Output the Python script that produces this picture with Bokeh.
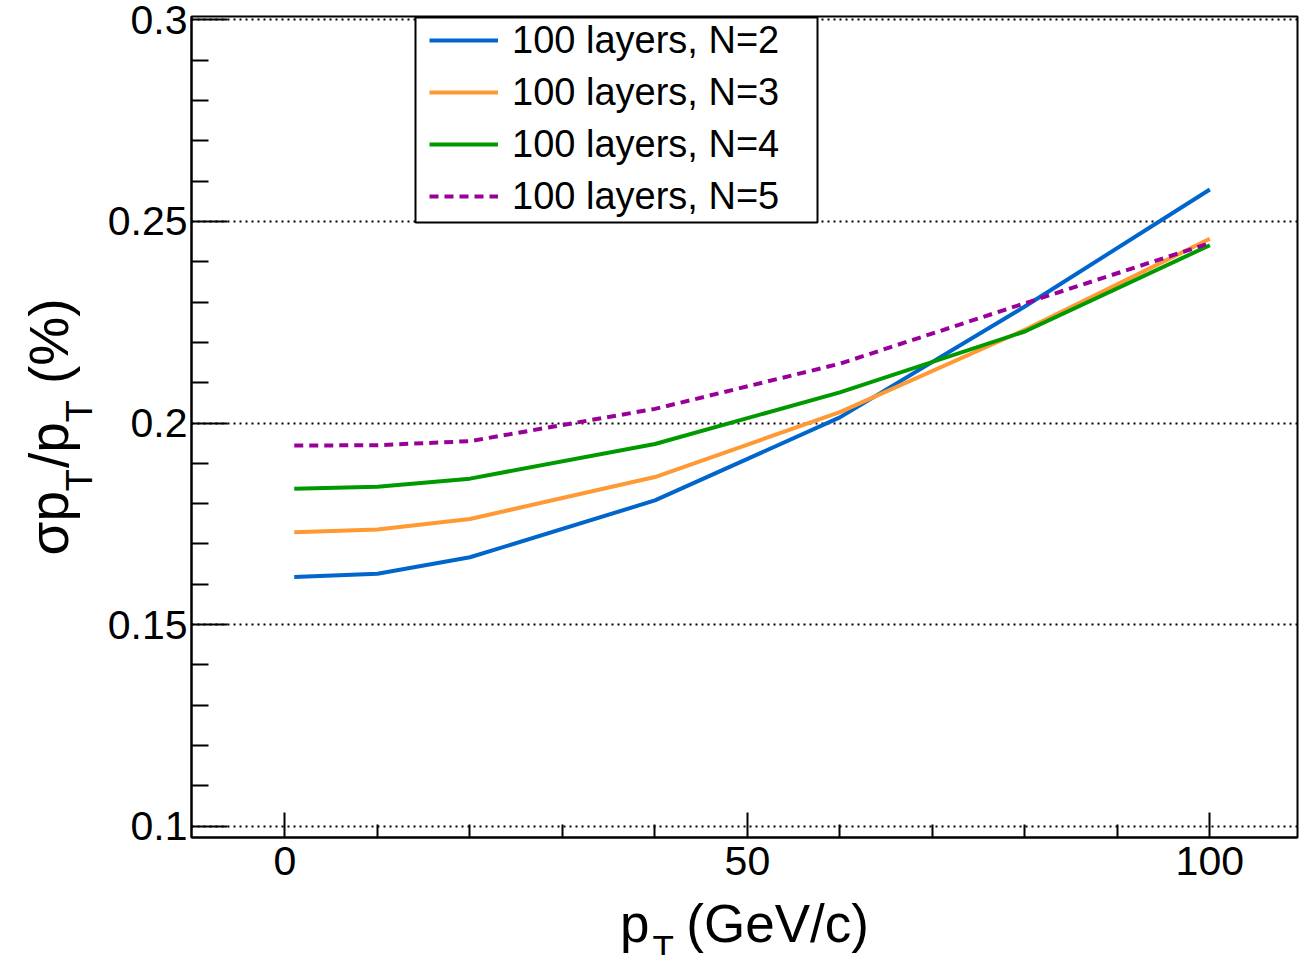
import numpy as np
from bokeh.plotting import figure
from bokeh.models import (Range1d, FixedTicker, CustomJSTickFormatter, Legend,
                          LegendItem, Label, BoxAnnotation, LinearAxis)
from bokeh.embed import file_html
from bokeh.resources import INLINE

# ---- data ----
pt = [1, 10, 20, 40, 60, 80, 100]
res_n2 = [0.1618, 0.1626, 0.1667, 0.1808, 0.2014, 0.2289, 0.2579]
res_n3 = [0.1729, 0.1736, 0.1762, 0.1866, 0.2027, 0.2231, 0.2457]
res_n4 = [0.1837, 0.1842, 0.1862, 0.1948, 0.2076, 0.2227, 0.2441]
res_n5 = [0.1944, 0.1945, 0.1955, 0.2035, 0.2147, 0.2297, 0.2446]
labels = ["100 layers, N=2", "100 layers, N=3", "100 layers, N=4", "100 layers, N=5"]
colors = ["#0066cc", "#ff9933", "#009900", "#990099"]

x_ticks = [0, 50, 100]
x_minor = [10, 20, 30, 40, 60, 70, 80, 90]
y_ticks = [0.1, 0.15, 0.2, 0.25, 0.3]
y_minor = [0.11, 0.12, 0.13, 0.14, 0.16, 0.17, 0.18, 0.19,
           0.21, 0.22, 0.23, 0.24, 0.26, 0.27, 0.28, 0.29]

x_title = "p\u0020\u2005\u2006(GeV/c)"          # subscript T drawn separately
y_title = "\u03c3p\u2005\u2006/p\u2005\u2006 (%)"  # subscripts T drawn separately
y_sub_pos = [0.1858, 0.2029]                    # where the two y-title subscripts sit

FONT = "Liberation Sans"

p = figure(width=1300, height=955,
           x_range=Range1d(-10.11, 109.48), y_range=Range1d(0.0972, 0.30082),
           output_backend="svg", toolbar_location=None,
           min_border_left=191, min_border_right=3,
           min_border_top=16, min_border_bottom=118)
p.background_fill_color = "white"
p.border_fill_color = "white"
p.outline_line_color = "black"
p.outline_line_width = 2

def blank_axis(**kw):
    base = dict(ticker=FixedTicker(ticks=[]), major_label_standoff=0,
                axis_line_color=None, major_tick_line_color=None,
                minor_tick_line_color=None, major_tick_in=0, major_tick_out=0,
                minor_tick_in=0, minor_tick_out=0)
    base.update(kw)
    return LinearAxis(**base)

# ---- x axis ----
xa = p.xaxis[0]
xa.ticker = FixedTicker(ticks=x_ticks, minor_ticks=x_minor)
xa.major_tick_in = 25
xa.major_tick_out = 0
xa.minor_tick_in = 13
xa.minor_tick_out = 0
xa.major_tick_line_width = 2
xa.minor_tick_line_width = 2
xa.axis_line_width = 2
xa.major_label_text_font = FONT
xa.major_label_text_font_size = "41px"
xa.major_label_text_color = "black"
xa.major_label_standoff = 9
xa.axis_label = x_title
xa.axis_label_text_font = FONT
xa.axis_label_text_font_style = "normal"
xa.axis_label_text_font_size = "53px"
xa.axis_label_text_color = "black"
xa.axis_label_standoff = 16
# spacer that gives back room below
p.add_layout(blank_axis(major_tick_out=-20), "below")

# ---- y axis (ticks + tick labels) ----
ya = p.yaxis[0]
ya.ticker = FixedTicker(ticks=y_ticks, minor_ticks=y_minor)
ya.formatter = CustomJSTickFormatter(code="return tick.toString()")
ya.major_tick_in = 36
ya.major_tick_out = 0
ya.minor_tick_in = 17
ya.minor_tick_out = 0
ya.major_tick_line_width = 2
ya.minor_tick_line_width = 2
ya.axis_line_width = 2
ya.major_label_text_font = FONT
ya.major_label_text_font_size = "41px"
ya.major_label_text_color = "black"
ya.major_label_standoff = 4

# subscript of the x title (placed in canvas pixels; parked in the left panel)
p.add_layout(Label(x=652, y=947, x_units="canvas", y_units="canvas", text="T",
                   text_font=FONT, text_font_size="35px", text_color="black",
                   text_baseline="alphabetic", text_align="left"), "left")

# y title main text
ytitle = blank_axis(axis_label=y_title, axis_label_text_font=FONT,
                    axis_label_text_font_style="normal",
                    axis_label_text_font_size="55px", axis_label_text_color="black",
                    axis_label_standoff=4)
p.add_layout(ytitle, "left")

# subscripts of the y title
ysub = LinearAxis(ticker=FixedTicker(ticks=y_sub_pos),
                  formatter=CustomJSTickFormatter(code="return 'T'"),
                  major_label_orientation="vertical",
                  major_label_text_font=FONT, major_label_text_font_size="36px",
                  major_label_text_color="black", major_label_standoff=-86,
                  axis_line_color=None, major_tick_line_color=None,
                  minor_tick_line_color=None, major_tick_in=0, major_tick_out=0,
                  minor_tick_in=0, minor_tick_out=0)
p.add_layout(ysub, "left")

# outer spacer on the left
p.add_layout(blank_axis(major_tick_out=14), "left")

p.xgrid.visible = False
p.ygrid.ticker = FixedTicker(ticks=y_ticks)
p.ygrid.grid_line_color = "black"
p.ygrid.grid_line_dash = "2 4"
p.ygrid.grid_line_width = 2

# ---- curves ----
series = [res_n2, res_n3, res_n4, res_n5]
renderers = []
for i, ys in enumerate(series):
    dash = "9 6" if i == 3 else "solid"
    r = p.line(pt, ys, line_color=colors[i], line_width=4, line_dash=dash)
    renderers.append(r)

# ---- legend ----
box = BoxAnnotation(left=224, right=626, top=820, bottom=615,
                    left_units="screen", right_units="screen",
                    top_units="screen", bottom_units="screen",
                    fill_color="white", fill_alpha=1.0,
                    line_color="black", line_width=2, line_alpha=1.0)
p.add_layout(box)

legend = Legend(items=[LegendItem(label=labels[i], renderers=[renderers[i]]) for i in range(4)],
                location=(238, 618), padding=0, margin=0, spacing=6,
                glyph_width=69, glyph_height=46, label_height=46, label_standoff=14,
                label_text_font=FONT, label_text_font_size="38px",
                label_text_color="black",
                border_line_alpha=0, background_fill_alpha=0)
p.add_layout(legend)

open("out.html", "w").write(file_html(p, INLINE))
